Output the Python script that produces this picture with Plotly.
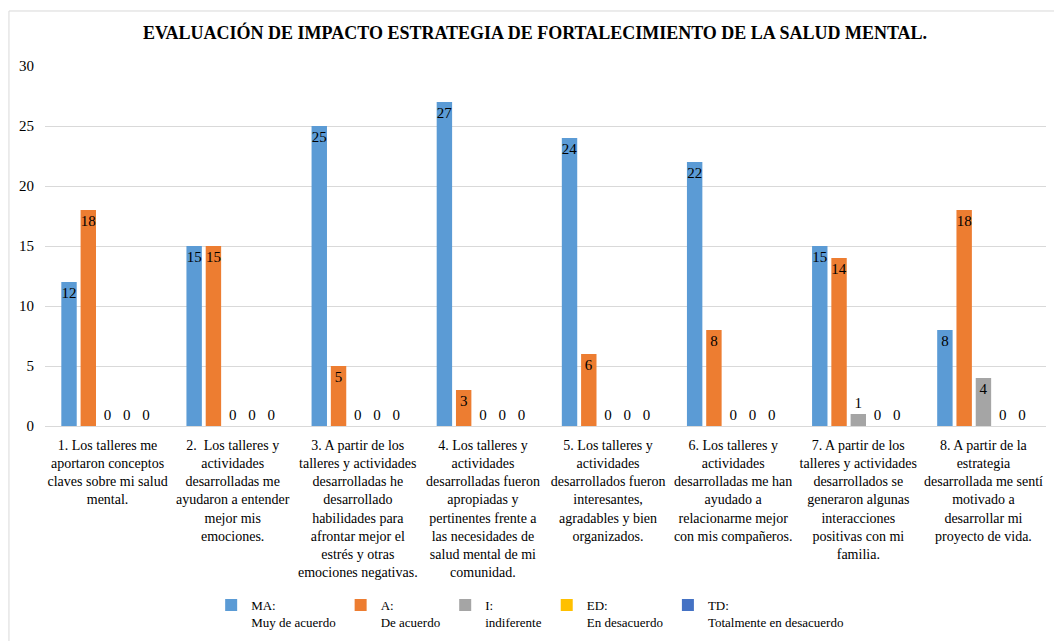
import plotly.graph_objects as go

title = "EVALUACIÓN DE IMPACTO ESTRATEGIA DE FORTALECIMIENTO DE LA SALUD MENTAL."

categories = [
    "1. Los talleres me<br>aportaron conceptos<br>claves sobre mi salud<br>mental.",
    "2.  Los talleres y<br>actividades<br>desarrolladas me<br>ayudaron a entender<br>mejor mis<br>emociones.",
    "3. A partir de los<br>talleres y actividades<br>desarrolladas he<br>desarrollado<br>habilidades para<br>afrontar mejor el<br>estrés y otras<br>emociones negativas.",
    "4. Los talleres y<br>actividades<br>desarrolladas fueron<br>apropiadas y<br>pertinentes frente a<br>las necesidades de<br>salud mental de mi<br>comunidad.",
    "5. Los talleres y<br>actividades<br>desarrollados fueron<br>interesantes,<br>agradables y bien<br>organizados.",
    "6. Los talleres y<br>actividades<br>desarrolladas me han<br>ayudado a<br>relacionarme mejor<br>con mis compañeros.",
    "7. A partir de los<br>talleres y actividades<br>desarrollados se<br>generaron algunas<br>interacciones<br>positivas con mi<br>familia.",
    "8. A partir de la<br>estrategia<br>desarrollada me sentí<br>motivado a<br>desarrollar mi<br>proyecto de vida.",
]

series_names = [
    "MA:<br>Muy de acuerdo",
    "A:<br>De acuerdo",
    "I:<br>indiferente",
    "ED:<br>En desacuerdo",
    "TD:<br>Totalmente en desacuerdo",
]

MA = [12, 15, 25, 27, 24, 22, 15, 8]
A = [18, 15, 5, 3, 6, 8, 14, 18]
I = [0, 0, 0, 0, 0, 0, 1, 4]
ED = [0, 0, 0, 0, 0, 0, 0, 0]
TD = [0, 0, 0, 0, 0, 0, 0, 0]

series_values = [MA, A, I, ED, TD]
colors = ["#5B9BD5", "#ED7D31", "#A5A5A5", "#FFC000", "#4472C4"]

FONT = "Liberation Serif, Times New Roman, serif"

fig = go.Figure()
for name, vals, col in zip(series_names, series_values, colors):
    fig.add_trace(go.Bar(
        x=categories,
        y=vals,
        name=name,
        marker=dict(color=col, line=dict(width=0)),
        text=[str(v) for v in vals],
        textposition=["inside" if v >= 2 else "outside" for v in vals],
        insidetextanchor="end",
        textangle=0,
        constraintext="none",
        textfont=dict(family=FONT, size=15, color="#000000"),
        cliponaxis=False,
    ))

fig.update_layout(
    barmode="group",
    bargap=0.23,
    bargroupgap=0.2,
    width=1054,
    height=641,
    paper_bgcolor="white",
    plot_bgcolor="white",
    margin=dict(l=45, r=8, t=66, b=215, autoexpand=False),
    title=dict(
        text="<b>" + title + "</b>",
        font=dict(family=FONT, size=18, color="#000000"),
        xref="paper", x=0.4895, xanchor="center",
        yref="container", y=0.9485, yanchor="middle",
    ),
    font=dict(family=FONT, color="#000000"),
    xaxis=dict(
        tickfont=dict(family=FONT, size=14, color="#000000"),
        showgrid=False,
        showline=False,
        ticks="outside",
        ticklen=6,
        tickcolor="rgba(0,0,0,0)",
        tickangle=0,
    ),
    yaxis=dict(
        range=[0, 30],
        dtick=5,
        tickfont=dict(family=FONT, size=15, color="#000000"),
        showgrid=True,
        gridcolor="#D9D9D9",
        gridwidth=1,
        zeroline=True,
        zerolinecolor="#D9D9D9",
        zerolinewidth=1,
        ticks="outside",
        ticklen=7,
        tickcolor="rgba(0,0,0,0)",
    ),
    legend=dict(
        orientation="h",
        xref="paper", x=0.166, xanchor="left",
        yref="container", y=0.0796, yanchor="top",
        font=dict(family=FONT, size=13, color="#000000"),
        itemwidth=30,
        valign="top",
        traceorder="normal",
        tracegroupgap=0,
    ),
    shapes=[dict(
        type="rect", xref="paper", yref="paper",
        x0=-0.036, x1=1.05, y0=-0.7, y1=1.1528,
        line=dict(color="#D9D9D9", width=1),
        fillcolor="rgba(0,0,0,0)",
        layer="below",
    )],
)

fig.write_html(
    "out.html",
    config={"displayModeBar": False},
    post_script="document.body.style.margin='0px';",
)
